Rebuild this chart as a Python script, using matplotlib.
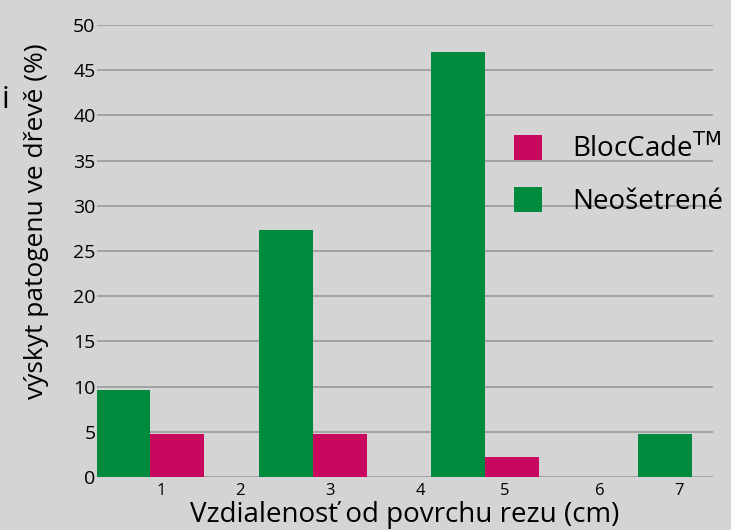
import matplotlib.pyplot as plt
import numpy as np

plt.rcParams['font.family'] = ['Open Sans', 'DejaVu Sans']

# data
neosetrene = [9.6, 27.3, 47.0, 4.8]
bloccade = [4.8, 4.8, 2.2, 0.0]
tick_labels = ['1', '2', '3', '4', '5', '6', '7']

# layout: group positions are shifted in the original chart
group_pos = np.array([0.53, 2.41, 4.40, 6.79])
tick_pos = [0.97, 1.88, 2.92, 3.97, 4.94, 6.04, 6.96]
width = 0.625

green = '#008a3e'
pink = '#c8085f'
bg = '#d4d4d4'

fig = plt.figure(figsize=(7.31, 5.30), dpi=100, facecolor=bg)
ax = fig.add_axes([97/731, 53/530, 616/731, 452/530])
ax.set_facecolor(bg)

ax.bar(group_pos, neosetrene, width, color=green, label='Neošetrené', zorder=3)
ax.bar(group_pos[:3] + width, bloccade[:3], width, color=pink,
       label='BlocCade$^{\\mathrm{TM}}$', zorder=3)

ax.set_xlim(0.225, 7.35)
ax.set_ylim(0, 50)
ax.set_yticks(range(0, 51, 5))
ax.set_xticks(tick_pos)
ax.set_xticklabels(tick_labels)
ax.grid(axis='y', color='#9a9a9a', linewidth=1.2, zorder=0)
for s in ax.spines.values():
    s.set_visible(False)
ax.tick_params(axis='y', length=0, labelsize=14, pad=1)
ax.tick_params(axis='x', length=0, labelsize=12, pad=4)

ax.set_xlabel('Vzdialenosť od povrchu rezu (cm)', fontsize=20, labelpad=2)
ax.set_ylabel('výskyt patogenu ve dřevě (%)', fontsize=19)
ax.yaxis.set_label_coords(-48/616, 0.566)

handles, labels = ax.get_legend_handles_labels()
leg = ax.legend(handles[::-1], labels[::-1], loc='upper left',
                bbox_to_anchor=(0.636, 0.813), frameon=False, fontsize=20,
                handlelength=1.0, handleheight=1.0, labelspacing=0.8,
                handletextpad=1.1)

fig.text(5/731, 1 - 100/530, 'i', fontsize=22, ha='center', va='center')

plt.savefig('out.png', dpi=100, facecolor=bg)
